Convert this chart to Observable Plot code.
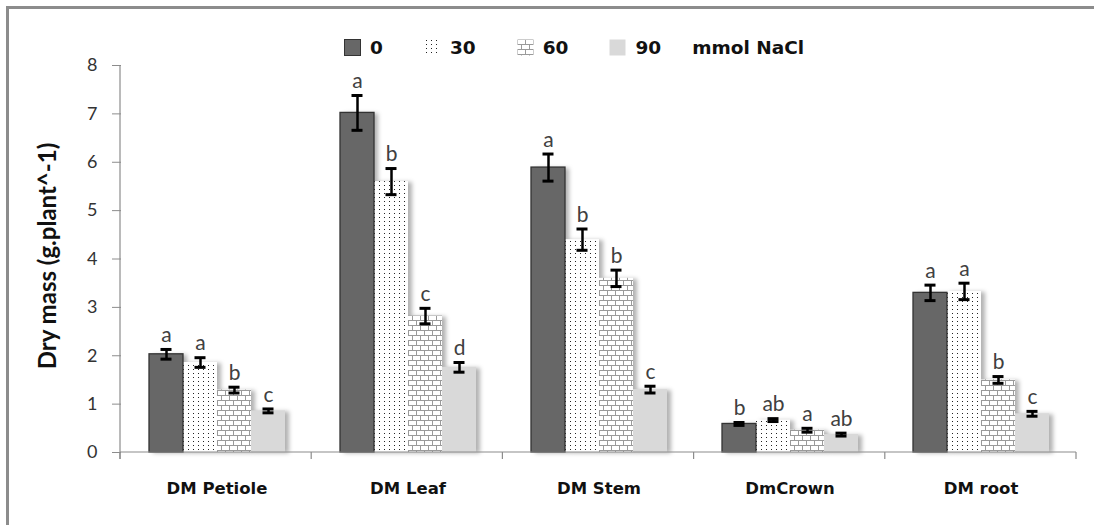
<!DOCTYPE html>
<html>
<head>
<meta charset="utf-8">
<script src="https://cdn.jsdelivr.net/npm/d3@7"></script>
<script src="https://cdn.jsdelivr.net/npm/@observablehq/plot@0.6"></script>
<style>
html, body { margin: 0; padding: 0; background: #fff; overflow: hidden; }
#wrap { position: relative; width: 1094px; height: 525px; overflow: hidden; font-family: Lato, "Open Sans", sans-serif; }
#frameL { position: absolute; left: 6px; top: 6px; width: 3px; height: 530px; background: #8c8c8c; }
#frameT { position: absolute; left: 6px; top: 6px; width: 1100px; height: 3px; background: #8c8c8c; }
#chart { position: absolute; left: 0; top: 0; }
#legend { position: absolute; top: 37px; left: 344px; display: flex; align-items: center; font-family: "DejaVu Sans", sans-serif; font-weight: bold; font-size: 18.5px; color: #111; white-space: nowrap; }
#legend .item { display: flex; align-items: center; margin-right: 41px; }
#legend .item svg { margin-right: 9px; }
#legend .unit { margin-left: -10px; }
#ylabel { position: absolute; left: 46px; top: 256px; transform: translate(-50%, -50%) rotate(-90deg); white-space: nowrap; font-weight: bold; font-size: 24px; color: #111; }
#chart svg [aria-label^="fx-axis"] text { font-family: "DejaVu Sans", sans-serif; font-weight: bold; font-size: 16.5px; fill: #111; }
#chart svg [aria-label^="y-axis"] text { font-size: 18px; fill: #333; }
#chart svg [aria-label^="y-axis"] line, #chart svg [aria-label^="y-axis"] path { stroke: #8c8c8c; }
</style>
</head>
<body>
<svg width="0" height="0" style="position:absolute;left:0;top:0">
  <defs>
    <pattern id="pDots" width="5" height="4" patternUnits="userSpaceOnUse">
      <rect width="5" height="4" fill="#fff"/>
      <rect x="2" y="1" width="1" height="1" fill="#222"/>
    </pattern>
    <pattern id="pBrick" width="8" height="10" patternUnits="userSpaceOnUse">
      <rect width="8" height="10" fill="#fff"/>
      <path d="M0,0.5H8M0,5.5H8M0.5,0.5V5.5M4.5,5.5V10.5" stroke="#9a9a9a" stroke-width="1" fill="none"/>
    </pattern>
  </defs>
</svg>
<div id="wrap">
  <div id="frameL"></div>
  <div id="frameT"></div>
  <div id="chart"></div>
  <div id="legend"></div>
  <div id="ylabel">Dry mass (g.plant^-1)</div>
</div>
<script>
// ---- data ----
const categories = ["DM Petiole", "DM Leaf", "DM Stem", "DmCrown", "DM root"];
const series = ["0", "30", "60", "90"];
const unitLabel = "mmol NaCl";
const mean0  = [2.03, 7.02, 5.89, 0.59, 3.30];
const mean30 = [1.86, 5.60, 4.40, 0.67, 3.33];
const mean60 = [1.29, 2.82, 3.60, 0.46, 1.50];
const mean90 = [0.86, 1.76, 1.30, 0.37, 0.80];
const err0  = [0.10, 0.36, 0.28, 0.03, 0.16];
const err30 = [0.10, 0.27, 0.22, 0.03, 0.17];
const err60 = [0.06, 0.16, 0.17, 0.04, 0.07];
const err90 = [0.04, 0.10, 0.07, 0.03, 0.05];
const letters0  = ["a", "a", "a", "b", "a"];
const letters30 = ["a", "b", "b", "ab", "a"];
const letters60 = ["b", "c", "b", "a", "b"];
const letters90 = ["c", "d", "c", "ab", "c"];
const yTicks = [0, 1, 2, 3, 4, 5, 6, 7, 8];
const seriesFills = ["#676767", "url(#pDots)", "url(#pBrick)", "#d9d9d9"];

const means = [mean0, mean30, mean60, mean90];
const errs = [err0, err30, err60, err90];
const letters = [letters0, letters30, letters60, letters90];
const data = [];
categories.forEach((c, i) => {
  series.forEach((s, j) => {
    data.push({category: c, series: s, mean: means[j][i], err: errs[j][i], letter: letters[j][i]});
  });
});

const plot = Plot.plot({
  width: 1094,
  height: 525,
  marginLeft: 120,
  marginRight: 18,
  marginTop: 65,
  marginBottom: 73,
  style: {fontFamily: "Lato, 'Open Sans', sans-serif", fontSize: "18px", color: "#333", background: "transparent"},
  facet: {data, x: "category"},
  fx: {domain: categories, padding: 0, axis: "bottom", label: null, tickSize: 0, tickPadding: 30},
  x: {domain: series, paddingInner: 0, paddingOuter: 0.73, axis: null},
  y: {domain: [0, 8], ticks: yTicks, tickSize: 9, tickPadding: 15, label: null, tickFormat: d => String(d)},
  color: {type: "ordinal", domain: series, range: seriesFills},
  marks: [
    Plot.barY(data, {x: "series", y: "mean", fill: "series"}),
    Plot.barY(data, {x: "series", y: "mean", fill: "none", stroke: "#333", strokeWidth: 1.3, filter: d => d.series === series[0]}),
    Plot.ruleX(data, {x: "series", y1: d => d.mean - d.err, y2: d => d.mean + d.err, stroke: "#000", strokeWidth: 2.5}),
    Plot.tickY(data, {x: "series", y: d => d.mean + d.err, stroke: "#000", strokeWidth: 3, insetLeft: 11.5, insetRight: 11.5}),
    Plot.tickY(data, {x: "series", y: d => d.mean - d.err, stroke: "#000", strokeWidth: 3, insetLeft: 11.5, insetRight: 11.5}),
    Plot.text(data, {x: "series", y: d => d.mean + d.err, text: "letter", dy: -14, fontSize: 21, fill: "#404040"})
  ]
});
document.getElementById("chart").appendChild(plot);

// shadows on filled bars
d3.select(plot).selectAll('g[aria-label="bar"] rect')
  .filter(function() { const f = this.getAttribute("fill"); return f && f !== "none"; })
  .style("filter", "drop-shadow(4px 1px 2px rgba(0,0,0,0.3))");

// axis lines and category boundary ticks, from the plot's own scales
const fx = plot.scale("fx");
const ys = plot.scale("y");
const r0 = fx.range[0], r1 = fx.range[1];
const step = (r1 - r0) / fx.domain.length;
const y0 = ys.range[0], yTop = ys.range[1];
const axisG = d3.select(plot).append("g").attr("stroke", "#8c8c8c").attr("stroke-width", 1.2);
axisG.append("line").attr("x1", r0).attr("x2", r0).attr("y1", yTop).attr("y2", y0 + 7);
axisG.append("line").attr("x1", r0).attr("x2", r1).attr("y1", y0).attr("y2", y0);
d3.range(fx.domain.length + 1).forEach(i => {
  const x = r0 + i * step;
  axisG.append("line").attr("x1", x).attr("x2", x).attr("y1", y0).attr("y2", y0 + 7);
});

// legend
const legend = d3.select("#legend");
series.forEach((s, j) => {
  const item = legend.append("div").attr("class", "item");
  const sw = item.append("svg").attr("width", 17).attr("height", 17);
  sw.append("rect").attr("x", 0.5).attr("y", 0.5).attr("width", 16).attr("height", 16)
    .attr("fill", seriesFills[j]).attr("stroke", j === 0 ? "#333" : "none");
  item.append("span").text(s);
});
legend.append("div").attr("class", "unit").text(unitLabel);
</script>
</body>
</html>
